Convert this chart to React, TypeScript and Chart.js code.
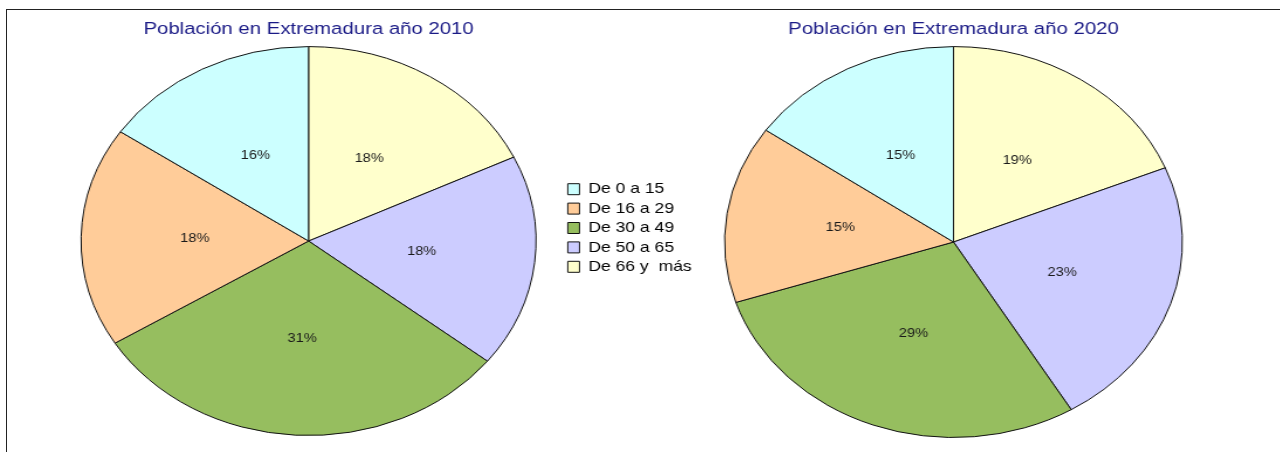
import React, { useEffect, useRef } from 'react';
import { Chart, registerables } from 'chart.js';

Chart.register(...registerables);

// ---- data (legend order) ----
const categories = ['De 0 a 15', 'De 16 a 29', 'De 30 a 49', 'De 50 a 65', 'De 66 y  más'];
const values2010 = [15.5, 18.3, 30.6, 17.7, 17.9];
const values2020 = [15.3, 14.7, 28.6, 22.6, 18.8];
const sliceColors = ['#ccffff', '#ffcc99', '#96be5f', '#ccccff', '#ffffcc'];
const title2010 = 'Población en Extremadura año 2010';
const title2020 = 'Población en Extremadura año 2020';

const SX = 1.17; // horizontal stretch of the figure
const FONT = '"Liberation Sans", Arial, sans-serif';
const TITLE_COLOR = '#1a1a86';

const pctLabels = {
  id: 'pctLabels',
  afterDatasetsDraw(chart: any) {
    const ctx = chart.ctx;
    const data = chart.data.datasets[0].data as number[];
    const total = data.reduce((a, b) => a + b, 0);
    const meta = chart.getDatasetMeta(0);
    ctx.save();
    ctx.font = `12.5px ${FONT}`;
    ctx.fillStyle = '#1a1a1a';
    ctx.textAlign = 'center';
    ctx.textBaseline = 'middle';
    meta.data.forEach((arc: any, i: number) => {
      const { x, y } = arc.getCenterPoint();
      ctx.fillText(Math.round((data[i] / total) * 100) + '%', x, y);
    });
    ctx.restore();
  },
};

type PieProps = {
  values: number[];
  title: string;
  showLegend: boolean;
  width: number;
  height: number;
  left: number;
  top: number;
  padding: { left: number; right: number; top: number; bottom: number };
};

function PieChart({ values, title, showLegend, width, height, left, top, padding }: PieProps) {
  const ref = useRef<HTMLCanvasElement | null>(null);
  useEffect(() => {
    if (!ref.current) return;
    // slices run counter-clockwise from 12 o'clock in the original, so reverse
    const labels = [...categories].reverse();
    const data = [...values].reverse();
    const bg = [...sliceColors].reverse();
    const chart = new Chart(ref.current, {
      type: 'pie',
      data: {
        labels,
        datasets: [
          {
            data,
            backgroundColor: bg,
            borderColor: '#111',
            borderWidth: 1,
          },
        ],
      },
      options: {
        animation: false,
        responsive: false,
        devicePixelRatio: 1,
        events: [],
        layout: { padding },
        plugins: {
          title: {
            display: true,
            text: title,
            color: TITLE_COLOR,
            fullSize: false,
            font: { family: FONT, size: 17.4, weight: 'normal' },
            padding: { top: 8.4, bottom: 6.8 },
          },
          legend: {
            display: showLegend,
            position: 'right',
            fullSize: true,
            reverse: true,
            maxWidth: 114,
            title: {
              display: true,
              text: '',
              font: { size: 1 },
              padding: 4.4,
            },
            labels: {
              boxWidth: 10,
              boxHeight: 11,
              padding: 4.4,
              color: '#000',
              font: { family: FONT, size: 15 },
            },
          },
          tooltip: { enabled: false },
        },
      },
      plugins: [pctLabels],
    } as any);
    return () => chart.destroy();
  }, []);
  return (
    <canvas
      ref={ref}
      width={width}
      height={height}
      style={{
        position: 'absolute',
        left: left + 'px',
        top: top + 'px',
        width: width * SX + 'px',
        height: height + 'px',
      }}
    />
  );
}

export default function App() {
  return (
    <div
      style={{
        position: 'absolute',
        left: 0,
        top: 0,
        width: '1280px',
        height: '452px',
        background: '#fff',
        overflow: 'hidden',
      }}
    >
      <div
        style={{
          position: 'absolute',
          left: '6px',
          top: '9px',
          width: '1274px',
          height: '443px',
          borderTop: '1px solid #222',
          borderLeft: '1px solid #222',
          boxSizing: 'border-box',
        }}
      />
      <PieChart
        values={values2010}
        title={title2010}
        showLegend={true}
        width={589}
        height={442}
        left={7}
        top={10}
        padding={{ left: 40.6, right: 0, top: 0, bottom: 16 }}
      />
      <PieChart
        values={values2020}
        title={title2020}
        showLegend={false}
        width={433}
        height={442}
        left={700}
        top={10}
        padding={{ left: 0, right: 0, top: 0, bottom: 14 }}
      />
    </div>
  );
}
